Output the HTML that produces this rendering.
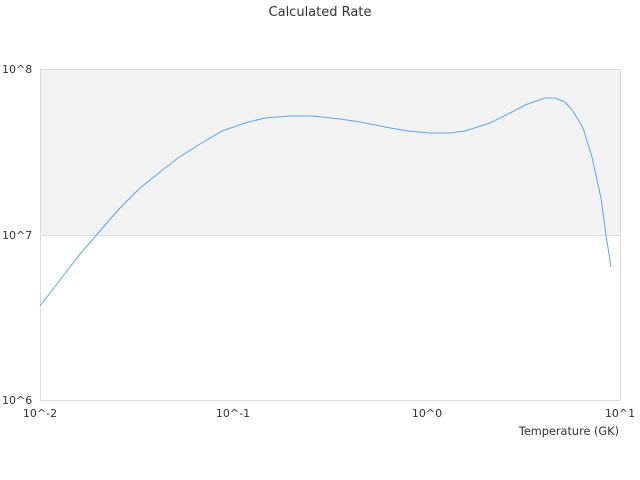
<!DOCTYPE html>
<html><head><meta charset="utf-8"><style>body{margin:0;background:#fff}svg{display:block}text{font-family:"DejaVu Sans","Liberation Sans",sans-serif;font-size:11px;fill:#333}</style></head><body>
<svg width="640" height="480" xmlns="http://www.w3.org/2000/svg">
<text x="320" y="16" text-anchor="middle" style="font-size:13px">Calculated Rate</text>
<rect x="40.5" y="69.5" width="580" height="166" fill="#f2f2f2"/>
<line x1="40" y1="235.5" x2="620" y2="235.5" stroke="#ddd"/>
<rect x="40.5" y="69.5" width="580" height="331" fill="none" stroke="#ddd"/>
<text x="2" y="73">10^8</text>
<text x="2" y="239">10^7</text>
<text x="2" y="404">10^6</text>
<text x="40" y="417" text-anchor="middle">10^-2</text>
<text x="233" y="417" text-anchor="middle">10^-1</text>
<text x="427" y="417" text-anchor="middle">10^0</text>
<text x="620" y="417" text-anchor="middle">10^1</text>
<text x="619" y="435" text-anchor="end" style="font-size:11.3px">Temperature (GK)</text>
<polyline fill="none" stroke="#5aa7f0" stroke-width="1" points="40,306 60,280 80,254 100,231 118,210 140,188 160,172 178,158 200,144 222,131 245,123 265,118 290,116 312,116 340,119 360,122 385,127 408,131 430,133 450,133 465,131 490,123 510,113 525,105 545,98 555,98 565,102 573,111 583,128 592,157 601,198 606,235 611,267"/>
</svg>
</body></html>
